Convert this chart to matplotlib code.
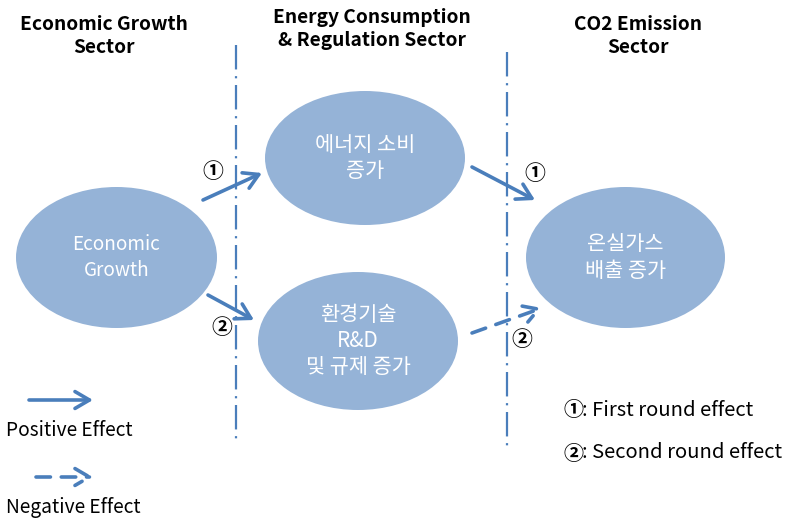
import matplotlib.pyplot as plt
from matplotlib.patches import Ellipse, FancyArrowPatch

plt.rcParams['font.family'] = ['Noto Sans CJK KR', 'DejaVu Sans']

# sector headers and node labels
sectors = ["Economic Growth\nSector", "Energy Consumption\n& Regulation Sector", "CO2 Emission\nSector"]
nodes = ["Economic\nGrowth", "에너지 소비\n증가", "환경기술\nR&D\n및 규제 증가", "온실가스\n배출 증가"]
marks = ["①", "①", "②", "②"]
legend_lines = ["Positive Effect", "Negative Effect"]
round_marks = ["①", "②"]
round_notes = [": First round effect", ": Second round effect"]

# layout in pixel coordinates (y down)
sector_xy = [(104, 36), (372, 29), (638, 36)]
node_xy = [(116.5, 257.5), (365, 158), (358, 341), (625.5, 257.5)]
node_wh = [(201, 141), (200, 134), (200, 138), (199, 141)]
node_fs = [13.6, 15, 15, 15]
arrow_pts = [((203, 200), (262, 173)), ((472, 167), (535, 200)),
             ((208, 295), (254, 320)), ((472, 333), (542, 308))]
arrow_dashed = [False, False, False, True]
mark_xy = [(213, 172), (535, 173), (222, 328), (522, 340)]
divider_x = [(235.5, 45, 444), (507, 52, 452)]

line_c = '#4A7EBB'
fill_c = '#95B3D7'
head = '->,head_length=6.5,head_width=3.8'

fig = plt.figure(figsize=(7.87, 5.18), dpi=100)
ax = fig.add_axes([0, 0, 1, 1])
ax.set_xlim(0, 787)
ax.set_ylim(518, 0)
ax.axis('off')

for (x, y), t in zip(sector_xy, sectors):
    ax.text(x, y, t, ha='center', va='center', fontsize=13.8, fontweight='bold',
            linespacing=1.32, color='black')

for x, y0, y1 in divider_x:
    ax.plot([x, x], [y0, y1], color=line_c, lw=1.6, linestyle=(0, (11, 3, 1, 3)))

for (x, y), (w, h), t, fs in zip(node_xy, node_wh, nodes, node_fs):
    ax.add_patch(Ellipse((x, y), w, h, facecolor=fill_c, edgecolor='none'))
    ax.text(x, y, t, ha='center', va='center', fontsize=fs, color='white',
            linespacing=1.25)

for (p0, p1), dashed in zip(arrow_pts, arrow_dashed):
    ax.add_patch(FancyArrowPatch(p0, p1, arrowstyle=head,
                                 mutation_scale=1.6, color=line_c, lw=2.6,
                                 linestyle=(0, (4, 3)) if dashed else '-',
                                 shrinkA=0, shrinkB=0))

for (x, y), m in zip(mark_xy, marks):
    ax.text(x, y, m, ha='center', va='center', fontsize=15, fontweight='bold',
            color='black')

# legend
ax.add_patch(FancyArrowPatch((29, 400), (93, 400), arrowstyle=head,
                             mutation_scale=1.6, color=line_c, lw=2.6, shrinkA=0, shrinkB=0))
ax.add_patch(FancyArrowPatch((36, 477), (93, 477), arrowstyle=head,
                             mutation_scale=1.6, color=line_c, lw=2.6, linestyle=(0, (4, 3)),
                             shrinkA=0, shrinkB=0))
for y, t in zip([430, 507], legend_lines):
    ax.text(6, y, t, ha='left', va='center', fontsize=13.8, color='black')

for y, m, t in zip([410, 453], round_marks, round_notes):
    ax.text(563, y, m, ha='left', va='center', fontsize=14.5, fontweight='bold', color='black')
    ax.text(582, y, t, ha='left', va='center', fontsize=14.5, color='black')

fig.savefig('out.png', dpi=100)
